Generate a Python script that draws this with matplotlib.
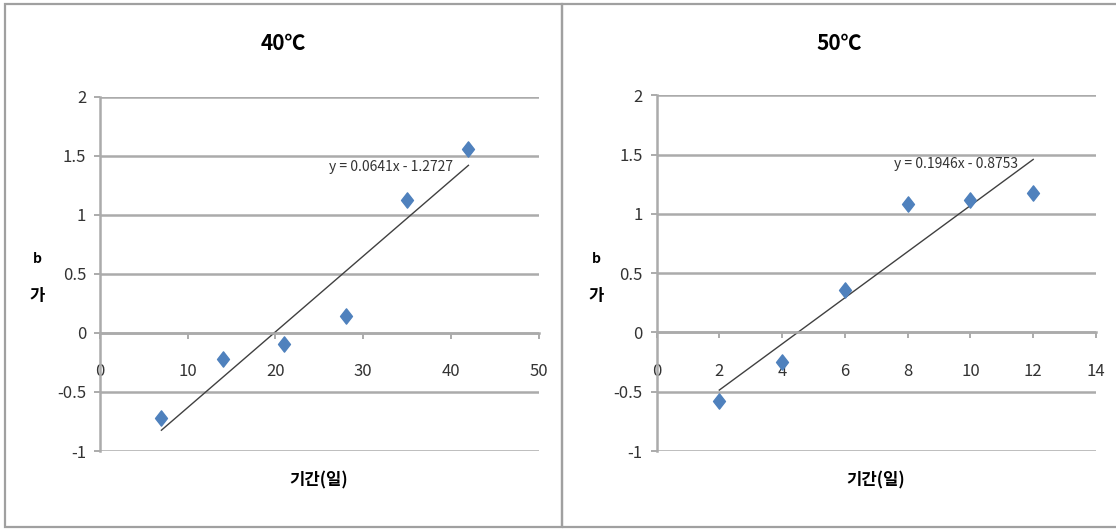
import matplotlib
matplotlib.use("Agg")
import matplotlib.pyplot as plt
from matplotlib.patches import Rectangle
from matplotlib.path import Path

plt.rcParams['font.family'] = ['Noto Sans CJK KR', 'DejaVu Sans']

# Data
titles = ["40℃", "50℃"]
days_40 = [7, 14, 21, 28, 35, 42]
b_40 = [-0.72, -0.22, -0.09, 0.14, 1.13, 1.56]
days_50 = [2, 4, 6, 8, 10, 12]
b_50 = [-0.58, -0.25, 0.36, 1.08, 1.12, 1.18]
fit_40 = (0.0641, -1.2727)
fit_50 = (0.1946, -0.8753)
xticks_40 = [0, 10, 20, 30, 40, 50]
xticks_50 = [0, 2, 4, 6, 8, 10, 12, 14]
yticks = [-1, -0.5, 0, 0.5, 1, 1.5, 2]
ytick_labels = ["-1", "-0.5", "0", "0.5", "1", "1.5", "2"]

W, H = 1116, 529
BLUE = "#4F81BD"
GRID = "#ababab"

# Excel-like tall diamond
diamond = Path([(0, 1), (0.78, 0), (0, -1), (-0.78, 0), (0, 1)],
               [Path.MOVETO, Path.LINETO, Path.LINETO, Path.LINETO, Path.CLOSEPOLY])

fig = plt.figure(figsize=(W / 100, H / 100), dpi=100)
fig.patch.set_facecolor("white")


def px(x, y):
    # pixel (top-left origin) -> figure fraction
    return x / W, 1 - y / H


def draw_panel(rect, days, vals, fit, xticks, title, cx, eq_xy):
    ax = fig.add_axes(rect)
    ax.set_xlim(xticks[0], xticks[-1])
    ax.set_ylim(-1, 2)

    # gridlines
    for yv in yticks:
        ax.axhline(yv, color=GRID, lw=1.8, zorder=1)

    for s in ["top", "right"]:
        ax.spines[s].set_visible(False)
    ax.spines["bottom"].set_position(("data", 0))
    ax.spines["bottom"].set_color(GRID)
    ax.spines["bottom"].set_linewidth(1.8)
    ax.spines["left"].set_color(GRID)
    ax.spines["left"].set_linewidth(1.8)

    ax.set_xticks(xticks)
    ax.set_xticklabels([str(t) for t in xticks])
    ax.set_yticks(yticks)
    ax.set_yticklabels(ytick_labels)
    ax.tick_params(axis="x", direction="out", length=4, width=1.4, color=GRID,
                   pad=18, labelsize=12, labelcolor="#333333")
    ax.tick_params(axis="y", direction="out", length=4, width=1.4, color=GRID,
                   pad=6, labelsize=12, labelcolor="#333333")

    # trend line
    m, b = fit
    x0, x1 = min(days), max(days)
    ax.plot([x0, x1], [m * x0 + b, m * x1 + b], color="#404040", lw=1.0, zorder=2)

    ax.plot(days, vals, linestyle="none", marker=diamond, markersize=11,
            color=BLUE, markeredgecolor=BLUE, zorder=3, clip_on=False)

    sign = "-" if b < 0 else "+"
    fig.text(*px(*eq_xy), f"y = {m:.4f}x {sign} {abs(b):.4f}",
             fontsize=10, color="#333333", ha="center", va="center")

    fig.text(*px(cx, 44), title, fontsize=15, fontweight="bold",
             ha="center", va="center")
    return ax


draw_panel([100 / W, 78 / H, 438.6 / W, 354.2 / H], days_40, b_40, fit_40,
           xticks_40, titles[0], 283.5, (391, 167))
draw_panel([656.5 / W, 78 / H, 439.5 / W, 355.6 / H], days_50, b_50, fit_50,
           xticks_50, titles[1], 839, (956, 164))

# axis titles
for cx in [319, 876]:
    fig.text(*px(cx, 480), "기간(일)", fontsize=12, fontweight="bold",
             ha="center", va="center")
for lx in [37, 596]:
    fig.text(*px(lx, 259), "b", fontsize=10, fontweight="bold",
             ha="center", va="center")
    fig.text(*px(lx, 296), "가", fontsize=12, fontweight="bold",
             ha="center", va="center")

# panel borders
fig.add_artist(Rectangle(px(5, 527), 557 / W, 523 / H, transform=fig.transFigure,
                         fill=False, edgecolor="#a0a0a0", lw=1.6))
fig.add_artist(Rectangle(px(562, 527), 560 / W, 523 / H, transform=fig.transFigure,
                         fill=False, edgecolor="#a0a0a0", lw=1.6))

fig.savefig("out.png", dpi=100, facecolor="white")
